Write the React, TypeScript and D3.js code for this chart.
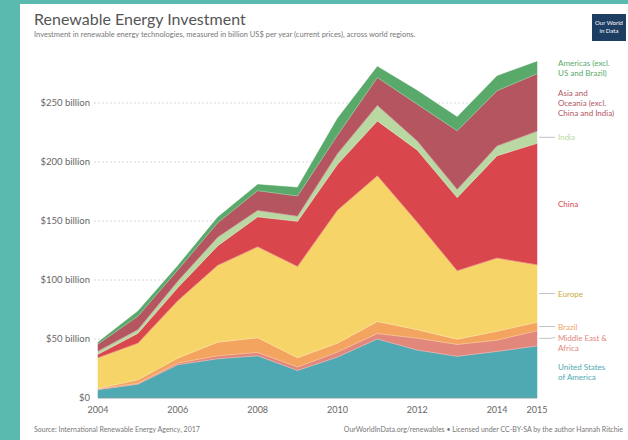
import { useEffect, useRef } from "react";
import { select, scaleLinear, stack, area, line, stackOrderNone, stackOffsetNone } from "d3";

// Years on the x axis
const years = [2004, 2005, 2006, 2007, 2008, 2009, 2010, 2011, 2012, 2013, 2014, 2015];
const xTickYears = [2004, 2006, 2008, 2010, 2012, 2014, 2015];
const yTicks = [0, 50, 100, 150, 200, 250];

// Investment by region, billion US$
const unitedStates = [7.0, 11.7, 28.2, 33.2, 35.8, 23.3, 34.7, 50.0, 40.6, 35.3, 39.5, 44.1];
const middleEastAfrica = [0.6, 0.8, 1.4, 2.5, 2.8, 2.9, 4.2, 4.6, 10.1, 10.1, 9.5, 12.9];
const brazil = [0.5, 2.9, 4.2, 11.6, 12.5, 7.9, 7.6, 10.2, 7.2, 4.4, 7.6, 7.1];
const europe = [26.0, 31.1, 48.7, 65.1, 77.0, 77.4, 112.6, 123.5, 91.0, 58.0, 62.0, 48.8];
const china = [3.0, 8.4, 11.1, 16.6, 25.4, 38.3, 38.9, 46.5, 61.2, 62.1, 86.7, 102.9];
const india = [2.6, 3.0, 5.4, 7.2, 5.4, 4.2, 9.0, 13.1, 7.6, 6.7, 8.3, 10.2];
const asiaOceania = [6.0, 11.4, 9.5, 12.3, 16.8, 17.2, 15.7, 23.7, 31.2, 49.8, 46.8, 48.7];
const americas = [1.5, 4.3, 3.6, 4.6, 5.2, 7.2, 14.1, 9.3, 11.6, 11.7, 12.5, 10.4];

const regionKeys = ["us", "mea", "brazil", "europe", "china", "india", "asoc", "americas"];
const regionLabels = [
  ["United States", "of America"],
  ["Middle East &", "Africa"],
  ["Brazil"],
  ["Europe"],
  ["China"],
  ["India"],
  ["Asia and", "Oceania (excl.", "China and India)"],
  ["Americas (excl.", "US and Brazil)"],
];
const regionColors = ["#4fa9b3", "#e2877c", "#f3a45f", "#f7d468", "#d9464c", "#b9d8a2", "#b4555f", "#59a96b"];
const leaderKeys = ["europe", "india", "brazil", "mea"];

export default function App() {
  const svgRef = useRef<SVGSVGElement | null>(null);

  useEffect(() => {
    const svg = select(svgRef.current);
    svg.selectAll("*").remove();

    const W = 628;
    const H = 440;
    const font = "Lato, 'Noto Sans', sans-serif";

    // background + card
    svg.append("rect").attr("width", W).attr("height", H).attr("fill", "#5bbab0");
    svg.append("rect").attr("x", 20).attr("y", 4).attr("width", W - 20).attr("height", H - 4).attr("fill", "#ffffff");

    const series = [unitedStates, middleEastAfrica, brazil, europe, china, india, asiaOceania, americas];
    const rows = years.map((yr, i) => {
      const row: Record<string, number> = { year: yr };
      regionKeys.forEach((k, j) => (row[k] = series[j][i]));
      return row;
    });

    const x = scaleLinear().domain([2004, 2015]).range([98, 537]);
    const y = scaleLinear().domain([0, 250]).range([398, 103]);

    // grid + y labels
    const grid = svg.append("g");
    yTicks.forEach((t) => {
      if (t > 0) {
        grid
          .append("line")
          .attr("x1", 94)
          .attr("x2", 537)
          .attr("y1", y(t))
          .attr("y2", y(t))
          .attr("stroke", "#cccccc")
          .attr("stroke-width", 0.8)
          .attr("stroke-dasharray", "2,2");
      }
      grid
        .append("text")
        .attr("x", 90)
        .attr("y", y(t) + 3)
        .attr("text-anchor", "end")
        .attr("font-family", font)
        .attr("font-size", 9.5)
        .attr("fill", "#666")
        .text(t === 0 ? "$0" : `$${t} billion`);
    });

    const stacked = stack<Record<string, number>>()
      .keys(regionKeys)
      .order(stackOrderNone)
      .offset(stackOffsetNone)(rows);

    const areaGen = area<any>()
      .x((d) => x(d.data.year))
      .y0((d) => y(d[0]))
      .y1((d) => y(d[1]));

    svg
      .append("g")
      .selectAll("path")
      .data(stacked)
      .join("path")
      .attr("d", areaGen)
      .attr("fill", (_d, i) => regionColors[i])
      .attr("stroke", (_d, i) => regionColors[i])
      .attr("stroke-width", 0.5);

    // thin light separators on top of each layer
    const topLine = line<any>()
      .x((d) => x(d.data.year))
      .y((d) => y(d[1]));
    svg
      .append("g")
      .selectAll("path")
      .data(stacked.slice(0, -1))
      .join("path")
      .attr("d", topLine)
      .attr("fill", "none")
      .attr("stroke", "#ffffff")
      .attr("stroke-opacity", 0.35)
      .attr("stroke-width", 0.8);

    // x axis line
    svg
      .append("line")
      .attr("x1", x(2004))
      .attr("x2", x(2015))
      .attr("y1", y(0))
      .attr("y2", y(0))
      .attr("stroke", "#999")
      .attr("stroke-width", 0.6);

    xTickYears.forEach((yr) => {
      svg
        .append("text")
        .attr("x", x(yr))
        .attr("y", 413)
        .attr("text-anchor", "middle")
        .attr("font-family", font)
        .attr("font-size", 9)
        .attr("fill", "#666")
        .text(yr);
    });

    // labels at right edge, centred on each layer, pushed apart when they collide
    const last = years.length - 1;
    const lh = 10;
    const blocks = stacked
      .map((s, i) => {
        const mid = y((s[last][0] + s[last][1]) / 2);
        const n = regionLabels[i].length;
        return { i, mid, top: mid - ((n - 1) * lh) / 2 - 4, h: (n - 1) * lh + 8 };
      })
      .sort((a, b) => a.mid - b.mid);
    let prevBottom = -Infinity;
    blocks.forEach((b) => {
      if (b.top < prevBottom + 3) b.top = prevBottom + 3;
      prevBottom = b.top + b.h;
    });

    const tx = 558;
    blocks.forEach((b) => {
      const i = b.i;
      const lines = regionLabels[i];
      const firstY = b.top + 4;
      if (leaderKeys.includes(regionKeys[i])) {
        svg
          .append("path")
          .attr("d", `M${x(2015) + 2},${b.mid} L${tx - 8},${b.mid} L${tx - 3},${firstY}`)
          .attr("fill", "none")
          .attr("stroke", "#999")
          .attr("stroke-width", 0.6);
      }
      const t = svg
        .append("text")
        .attr("font-family", font)
        .attr("font-size", 8)
        .attr("fill", regionColors[i] === "#f7d468" ? "#c9a93c" : regionColors[i]);
      lines.forEach((ln, k) => {
        t.append("tspan").attr("x", tx).attr("y", firstY + k * lh + 3).text(ln);
      });
    });

    // title + subtitle
    svg
      .append("text")
      .attr("x", 34)
      .attr("y", 25)
      .attr("font-family", font)
      .attr("font-size", 16)
      .attr("fill", "#555")
      .text("Renewable Energy Investment");
    svg
      .append("text")
      .attr("x", 34)
      .attr("y", 37)
      .attr("font-family", font)
      .attr("font-size", 7.5)
      .attr("fill", "#777")
      .text("Investment in renewable energy technologies, measured in billion US$ per year (current prices), across world regions.");

    // logo
    svg.append("rect").attr("x", 592).attr("y", 14).attr("width", 34).attr("height", 27).attr("fill", "#1d3d63");
    const logo = svg
      .append("text")
      .attr("font-family", font)
      .attr("font-size", 6)
      .attr("fill", "#ffffff")
      .attr("text-anchor", "middle");
    logo.append("tspan").attr("x", 609).attr("y", 25).text("Our World");
    logo.append("tspan").attr("x", 609).attr("y", 33).text("in Data");

    // footer
    svg
      .append("text")
      .attr("x", 34)
      .attr("y", 432)
      .attr("font-family", font)
      .attr("font-size", 7)
      .attr("fill", "#777")
      .text("Source: International Renewable Energy Agency, 2017");
    svg
      .append("text")
      .attr("x", 623)
      .attr("y", 432)
      .attr("text-anchor", "end")
      .attr("font-family", font)
      .attr("font-size", 7)
      .attr("fill", "#777")
      .text("OurWorldInData.org/renewables • Licensed under CC-BY-SA by the author Hannah Ritchie");
  }, []);

  return (
    <svg
      ref={svgRef}
      width={628}
      height={440}
      style={{ position: "absolute", left: 0, top: 0, display: "block" }}
    />
  );
}
